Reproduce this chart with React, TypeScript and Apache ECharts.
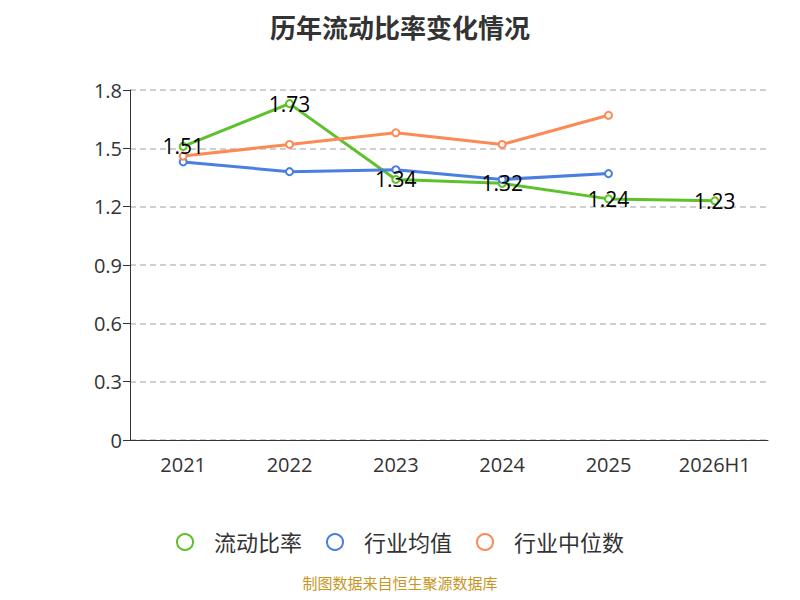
import { useEffect, useRef } from 'react'
import * as echarts from 'echarts'

const YEARS = ['2021', '2022', '2023', '2024', '2025', '2026H1']
const CURRENT = [1.51, 1.73, 1.34, 1.32, 1.24, 1.23]
const INDUSTRY_AVG = [1.43, 1.38, 1.39, 1.34, 1.37]
const INDUSTRY_MEDIAN = [1.46, 1.52, 1.58, 1.52, 1.67]

export default function App() {
  const ref = useRef<HTMLDivElement>(null)
  useEffect(() => {
    const el = ref.current
    if (!el) return
    const chart = echarts.init(el, undefined, { renderer: 'svg' })
    const font = '"Open Sans", "Noto Sans CJK SC", sans-serif'
    chart.setOption({
      animation: false,
      textStyle: { fontFamily: font },
      title: {
        text: '历年流动比率变化情况',
        left: 'center',
        top: 2,
        textStyle: { fontSize: 26, fontWeight: 'bold', color: '#333', fontFamily: font },
      },
      legend: {
        bottom: 34,
        itemGap: 24,
        itemWidth: 48,
        itemHeight: 16,
        icon: 'emptyCircle',
        textStyle: { fontSize: 22, color: '#333' },
        data: ['流动比率', '行业均值', '行业中位数'],
      },
      graphic: [
        {
          type: 'text',
          left: 'center',
          bottom: 2,
          style: { text: '制图数据来自恒生聚源数据库', fontSize: 15, fill: '#c8961e', fontFamily: font },
        },
      ],
      grid: { left: 122, right: 24, top: 82, bottom: 152 },
      xAxis: {
        type: 'category',
        data: YEARS,
        axisLine: { lineStyle: { color: '#333' } },
        axisTick: { length: 7, lineStyle: { color: '#333' } },
        axisLabel: { fontSize: 20, color: '#333', margin: 14 },
      },
      yAxis: {
        type: 'value',
        min: 0,
        max: 1.8,
        interval: 0.3,
        axisLine: { show: true, lineStyle: { color: '#333' } },
        axisTick: { show: true, length: 7, lineStyle: { color: '#333' } },
        axisLabel: { fontSize: 20, color: '#333', formatter: (v: number) => (v === 0 ? '0' : v.toFixed(1)) },
        splitLine: { lineStyle: { color: '#c0c0c0', type: [6, 4], width: 1.5 } },
      },
      series: [
        {
          name: '流动比率',
          type: 'line',
          data: CURRENT,
          color: '#5cc12a',
          symbol: 'emptyCircle',
          symbolSize: 7,
          lineStyle: { width: 3 },
          label: { show: true, position: 'inside', fontSize: 21, color: '#000' },
          z: 3,
        },
        {
          name: '行业均值',
          type: 'line',
          data: INDUSTRY_AVG,
          color: '#4a7fe0',
          symbol: 'emptyCircle',
          symbolSize: 7,
          lineStyle: { width: 3 },
        },
        {
          name: '行业中位数',
          type: 'line',
          data: INDUSTRY_MEDIAN,
          color: '#fb8a55',
          symbol: 'emptyCircle',
          symbolSize: 7,
          lineStyle: { width: 3 },
        },
      ],
    })
    return () => chart.dispose()
  }, [])
  return <div ref={ref} style={{ width: 784, height: 584 }} />
}
